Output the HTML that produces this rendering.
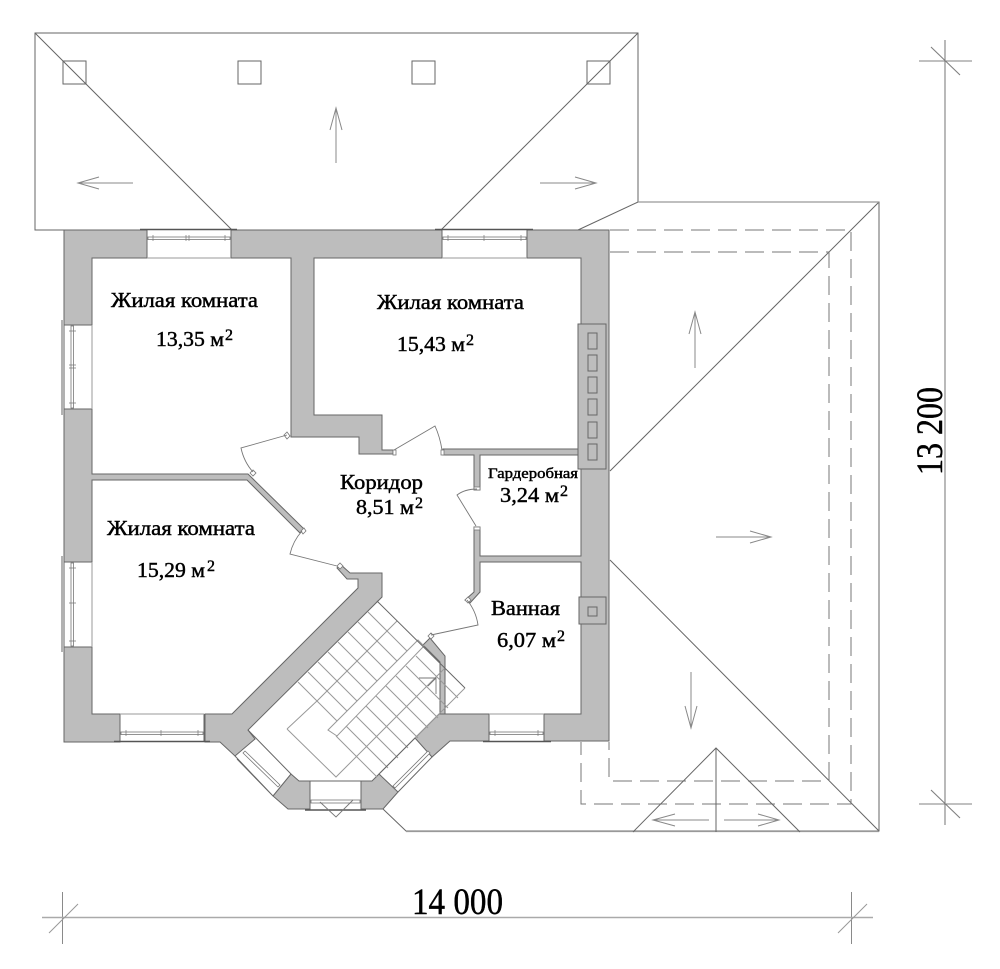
<!DOCTYPE html>
<html><head><meta charset="utf-8"><style>
html,body{margin:0;padding:0;background:#fff}
svg{display:block}
text{font-family:"Liberation Serif","Noto Serif CJK SC",serif;fill:#000;stroke:#000;stroke-width:.45}
.l{fill:none;stroke:#666;stroke-width:1}
.t{fill:none;stroke:#777;stroke-width:.9}
.a{fill:none;stroke:#888;stroke-width:1}
.d{fill:none;stroke:#777;stroke-width:1;stroke-dasharray:19 8}
.w{fill:#bdbdbd;stroke:#666;stroke-width:1}
.g{fill:none;stroke:#999;stroke-width:1}
.f{fill:#fff;stroke:#777;stroke-width:.8}
</style></head><body>
<svg xmlns="http://www.w3.org/2000/svg" width="1000" height="969" viewBox="0 0 1000 969">
<rect width="1000" height="969" fill="#fff"/>

<!-- top roof -->
<path class="l" d="M64 230H35V33H638V202L578 230M35 33L232 230M638 33L441 230"/>
<g class="l"><rect x="63" y="61" width="23" height="23"/><rect x="238" y="61" width="23" height="23"/><rect x="412" y="61" width="23" height="23"/><rect x="587" y="61" width="23" height="23"/></g>
<path class="a" d="M336 163V108M330 130L336 108L342 130M133 183H78M99 177L78 183L99 189M540 183H596M575 177L596 183L575 189"/>

<!-- right roof -->
<path class="l" d="M638 202H879V831H406L383 809M879 202L610 471M610 560L879 831"/>
<path d="M406 831.5H879M638 202H879" stroke="#999" stroke-width="1.2" fill="none"/>
<path class="d" d="M610 230H851V804H581V742"/>
<path class="d" d="M610 252H829V781H609V742"/>
<path class="a" d="M695 368V312M689 334L695 312L701 334M716 537H771M750 531L771 537L750 543M691 672V728M685 706L691 728L697 706"/>
<path class="l" d="M633 832L716 748L800 832M716 748V832"/>
<path class="a" d="M709 820H653M675 814L653 820L675 826M724 820H779M758 814L779 820L758 826"/>

<!-- walls -->
<g class="w">
<path d="M147 230H64V325H92V258H147Z"/>
<path d="M231 230H442V258H314V415H382V450H393V454H359V437H291V258H231Z"/>
<path d="M527 230H609V741H544V714H581V562H480V592L470 603L465 600L474 592V527H480V556H581V455H480V490H474V455H443V449H581V258H527Z"/>
<path d="M64 409H92V474H248L304 529L300 533L247 480H92V562H64Z"/>
<path d="M64 647H92V714H120V742H64Z"/>
<path d="M205 714H232L358 588V579H347L337 568L340 564L350 573H382V597L248 730L255 739L235 756L220 742H205Z"/>
<path d="M291 774L299 781H310V809H288L273 796Z"/>
<path d="M379 774L372 781H361V809H383L398 792Z"/>
<path d="M415 738L439 714H489V741H450L432 757Z"/>
<path d="M423 645L430 638L445 656V714H440V662Z"/>
<rect x="578" y="324" width="28" height="145"/>
<rect x="579" y="597" width="27" height="27"/>
<g fill="none">
<rect x="588" y="333" width="9" height="16"/><rect x="588" y="355" width="9" height="16"/><rect x="588" y="377" width="9" height="16"/><rect x="588" y="399" width="9" height="16"/><rect x="588" y="422" width="9" height="16"/><rect x="588" y="444" width="9" height="16"/>
<rect x="588" y="607" width="9" height="9"/>
</g>
</g>

<!-- stairs -->
<g class="g">
<path d="M465 688L380 773"/>
<path d="M318 700L397 621M345 768L445 668M287 729L318 700M287 729L336 777L368 745"/>
<path d="M328 730L418 640L424 646L337 736Z" fill="#fff"/>
<path d="M298 682L337 721M308 672L347 711M318 662L357 701M328 652L367 691M338 642L377 681M348 632L387 671M358 622L397 661M368 612L407 651"/>
<path d="M336 736L377 777M346 726L388 768M356 716L398 758M366 706L408 748M376 696L418 738M386 686L428 728M396 676L438 718M406 666L448 708M416 656L458 698"/>
</g>
<path class="l" d="M377 601L465 688"/>
<path class="t" d="M419 678H436V694M436 678L428 686"/>

<!-- door jambs -->
<g class="f">
<path d="M287 436L290 433L293 437L290 440Z" transform="translate(-3 -1)"/>
<rect x="393" y="450" width="3" height="5"/>
<rect x="441" y="450" width="3" height="5"/>
<rect x="474" y="487" width="6" height="3"/>
<rect x="474" y="527" width="6" height="3"/>
<path d="M250 473L253 470L256 473L253 476Z"/>
<path d="M301 531L304 528L306 531L303 534Z"/>
<path d="M337 566L340 563L343 566L340 569Z"/>
<path d="M465 600L468 597L471 600L468 603Z"/>
<path d="M428 636L431 633L434 636L431 639Z"/>
</g>

<!-- doors -->
<g class="t">
<path d="M287 435L241 448Q244 462 253 472"/>
<path d="M302 531Q293 541 290 554L337 566"/>
<path d="M394 450L435 426Q440 437 442 450"/>
<path d="M477 489Q465 489 457 495L476 526"/>
<path d="M467 600Q476 611 478 625L431 635"/>
</g>

<!-- windows -->
<g>
<path class="l" d="M147 230V258M231 230V258M442 230V258M527 230V258M120 714V742M204 714V742M489 714V741M544 714V741"/>
<path d="M147 258H231M442 258H527M120 714H204M489 714H544M92 325V409M92 562V647" stroke="#999" fill="none"/>
<path d="M140 229.5H237M435 229.5H533M114 741.5H210M483 741.5H551" stroke="#555" stroke-width="1.4" fill="none"/>
<path d="M62 320V415M62 556V652M64 325V409M64 562V647" stroke="#666" stroke-width="1" fill="none"/>
<g class="f">
<rect x="148" y="237" width="82" height="2.5"/><rect x="443" y="237" width="83" height="2.5"/>
<rect x="121" y="732" width="82" height="2.5"/><rect x="490" y="732" width="53" height="2.5"/>
<rect x="71" y="326" width="2.5" height="82"/><rect x="71" y="563" width="2.5" height="83"/>
<rect x="311" y="800" width="49" height="3"/>
<path d="M243 753L278 787L280 785L245 751Z"/>
<path d="M395 788L430 753L428 751L393 786Z"/>
</g>
<path d="M153 235V241M186 235V241M189 235V241M225 235V241M448 235V241M484 235V241M521 235V241M126 730V736M161 730V736M198 730V736M495 730V736M538 730V736M69 331H76M69 365H76M69 368H76M69 403H76M69 568H76M69 603H76M69 641H76" stroke="#777" stroke-width=".7" fill="none"/>
<path d="M305 810H366" stroke="#555" stroke-width="1.4" fill="none"/>
<path class="l" d="M299 781H372M248 730L291 774M235 756L273 796M237 759L273 796M415 738L379 774M432 757L398 792"/>
<path class="t" d="M320 802L336 817L353 800"/>
</g>

<!-- dimensions -->
<path d="M42 917.5H873M62.5 892V944M851.5 892V944" stroke="#8a8a8a" stroke-width="1" fill="none"/>
<path d="M42 917.5H873" stroke="#aaa" stroke-width="1.6" fill="none"/>
<path d="M49 933L78 904M838 933L867 904" stroke="#999" fill="none"/>
<path d="M945 40V825M919 61H972M919 804H972M931 47L960 75M931 790L960 818" stroke="#808080" stroke-width="1.1" fill="none"/>

<!-- labels -->
<text x="111" y="307" font-size="21" textLength="147" lengthAdjust="spacingAndGlyphs">Жилая комната</text>
<text x="156" y="346" font-size="21" textLength="68" lengthAdjust="spacingAndGlyphs">13,35 м</text>
<text x="225" y="340" font-size="16">2</text>
<text x="377" y="309" font-size="21" textLength="147" lengthAdjust="spacingAndGlyphs">Жилая комната</text>
<text x="397" y="351" font-size="21" textLength="68" lengthAdjust="spacingAndGlyphs">15,43 м</text>
<text x="466" y="345" font-size="16">2</text>
<text x="107" y="535" font-size="21" textLength="148" lengthAdjust="spacingAndGlyphs">Жилая комната</text>
<text x="137" y="577" font-size="21" textLength="68" lengthAdjust="spacingAndGlyphs">15,29 м</text>
<text x="207" y="571" font-size="16">2</text>
<text x="340" y="489" font-size="21" textLength="83" lengthAdjust="spacingAndGlyphs">Коридор</text>
<text x="356" y="514" font-size="21" textLength="58" lengthAdjust="spacingAndGlyphs">8,51 м</text>
<text x="415" y="508" font-size="16">2</text>
<text x="488" y="478" font-size="15" textLength="90" lengthAdjust="spacingAndGlyphs">Гардеробная</text>
<text x="500" y="502" font-size="21" textLength="59" lengthAdjust="spacingAndGlyphs">3,24 м</text>
<text x="560" y="496" font-size="16">2</text>
<text x="491" y="615" font-size="21" textLength="69" lengthAdjust="spacingAndGlyphs">Ванная</text>
<text x="497" y="647" font-size="21" textLength="59" lengthAdjust="spacingAndGlyphs">6,07 м</text>
<text x="557" y="641" font-size="16">2</text>
<text x="412" y="914" font-size="37" textLength="91" lengthAdjust="spacingAndGlyphs">14 000</text>
<text transform="translate(942 475) rotate(-90)" font-size="37" textLength="88" lengthAdjust="spacingAndGlyphs">13 200</text>
</svg>
</body></html>
